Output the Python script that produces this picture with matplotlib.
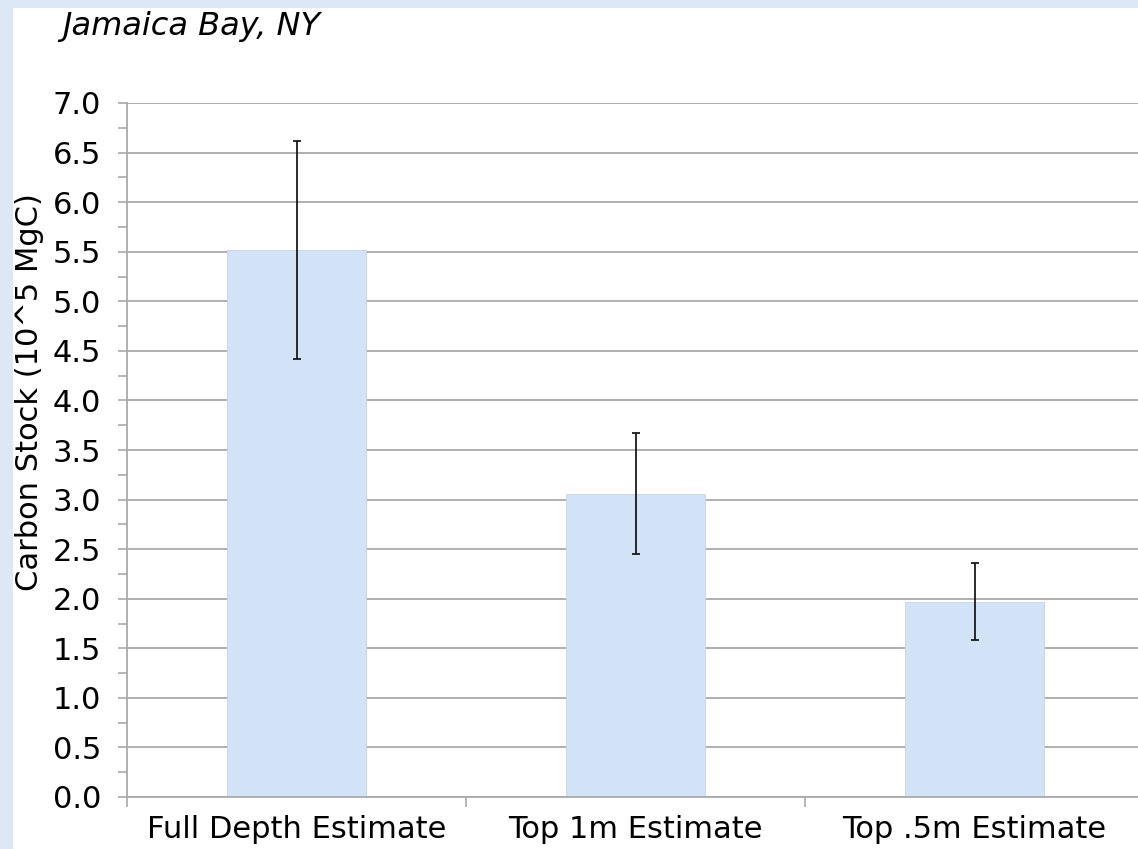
import numpy as np
import matplotlib.pyplot as plt
from matplotlib.patches import Rectangle
from matplotlib.ticker import MultipleLocator, FixedLocator

plt.rcParams['font.family'] = ['DejaVu Sans']

# Carbon stock estimates (10^5 MgC) and their uncertainties
categories = ["Full Depth Estimate", "Top 1m Estimate", "Top .5m Estimate"]
stock = [5.52, 3.06, 1.97]
stock_err = [1.10, 0.61, 0.39]

BAR_COLOR = "#d3e3f7"
FRAME_COLOR = "#dce8f5"
GRID_COLOR = "#a9a9a9"
FS = 22

fig = plt.figure(figsize=(11.38, 8.49), dpi=100)
fig.patch.set_facecolor(FRAME_COLOR)

# white panel inside the light blue frame
W, H = 1138, 849
fig.patches.append(Rectangle((13 / W, 0), 1, 1 - 8 / H, transform=fig.transFigure,
                             facecolor="white", edgecolor="none", zorder=-10))

ax = fig.add_axes([127 / W, 1 - 797 / H, 1017 / W, 694 / H])
ax.set_zorder(1)
ax.set_facecolor("white")

x = np.arange(len(categories))
ax.bar(x, stock, width=0.41, color=BAR_COLOR, edgecolor="#c6d4e6", linewidth=0.6, zorder=2)
ax.errorbar(x, stock, yerr=stock_err, fmt="none", ecolor="#1a1a1a",
            elinewidth=1.3, capsize=3, capthick=1.3, zorder=3)

ax.set_xlim(-0.5, 2.5)
ax.set_ylim(0, 7.0)
ax.yaxis.set_major_locator(MultipleLocator(0.5))
ax.yaxis.set_minor_locator(MultipleLocator(0.25))
ax.yaxis.set_major_formatter(plt.FuncFormatter(lambda v, p: f"{v:.1f}"))
ax.grid(axis="y", which="major", color=GRID_COLOR, linewidth=1.3, zorder=1)
ax.set_axisbelow(True)

ax.set_xticks(x)
ax.set_xticklabels(categories)
ax.xaxis.set_minor_locator(FixedLocator([-0.5, 0.5, 1.5, 2.5]))
ax.tick_params(axis="x", which="major", length=0, pad=13, labelsize=FS)
ax.tick_params(axis="x", which="minor", length=7, width=1.2, color=GRID_COLOR, direction="out")
ax.tick_params(axis="y", which="both", length=6.5, width=1.2, color=GRID_COLOR,
               direction="out", labelsize=FS, pad=12)

for side in ("top", "right"):
    ax.spines[side].set_visible(False)
for side in ("left", "bottom"):
    ax.spines[side].set_color(GRID_COLOR)
    ax.spines[side].set_linewidth(1.3)

ax.set_ylabel("Carbon Stock (10^5 MgC)", fontsize=FS)
ax.yaxis.set_label_coords(-0.0816, 0.584)

fig.text(62 / W, 1 - 26 / H, "Jamaica Bay, NY", fontsize=23, style="italic",
         ha="left", va="center")

fig.savefig("out.png", dpi=100, facecolor=fig.get_facecolor())
